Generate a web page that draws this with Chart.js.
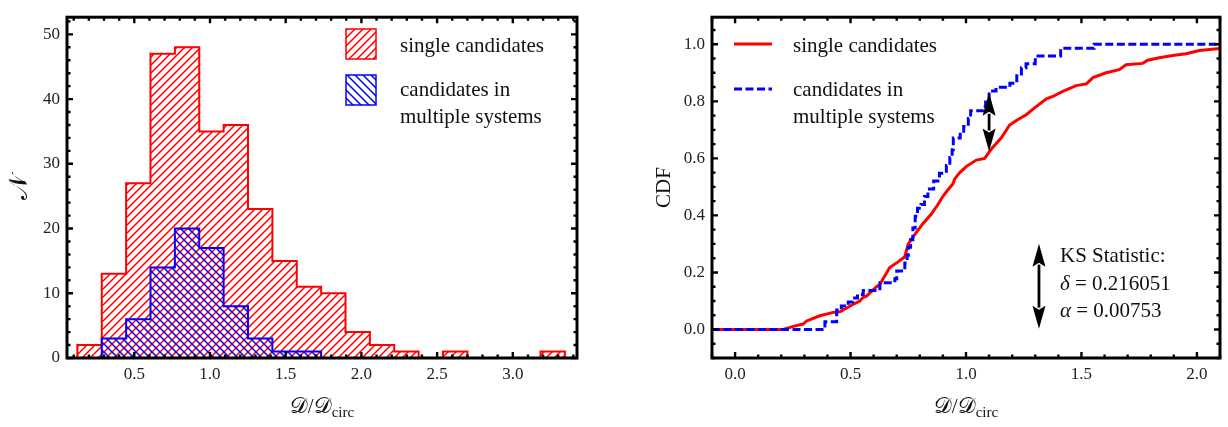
<!DOCTYPE html>
<html><head><meta charset="utf-8">
<script src="https://cdn.jsdelivr.net/npm/chart.js@4.4.0/dist/chart.umd.min.js"></script>
<style>
html,body{margin:0;padding:0;background:#fff;}
#wrap{position:relative;width:1228px;height:427px;overflow:hidden;background:#fff;}
#c1{position:absolute;left:0;top:0;}
#c2{position:absolute;left:620px;top:0;}
</style></head><body>
<div id="wrap"><canvas id="c1" width="600" height="427"></canvas><canvas id="c2" width="608" height="427"></canvas></div>
<script>
// ---------- data: histogram ----------
const binEdges = [0.124, 0.285, 0.446, 0.607, 0.768, 0.929, 1.090, 1.251, 1.412, 1.573, 1.734,
                  1.895, 2.056, 2.217, 2.378, 2.539, 2.700, 2.861, 3.022, 3.183, 3.344];
const singleCounts   = [2, 13, 27, 47, 48, 35, 36, 23, 15, 11, 10, 4, 2, 1, 0, 1, 0, 0, 0, 1];
const multipleCounts = [0, 3, 6, 14, 20, 17, 8, 3, 1, 1, 0, 0, 0, 0, 0, 0, 0, 0, 0, 0];
const histXTicks = [0.5, 1.0, 1.5, 2.0, 2.5, 3.0];
const histYTicks = [0, 10, 20, 30, 40, 50];

// ---------- data: CDF ----------
const singleCdfX = [-0.1, 0.209, 0.252, 0.295, 0.31, 0.367, 0.425, 0.454, 0.476, 0.504, 0.54, 0.555, 0.569,
  0.613, 0.627, 0.641, 0.67, 0.706, 0.735, 0.75, 0.778, 0.814, 0.85, 0.879, 0.9, 0.922, 0.944, 0.951, 0.973,
  1.002, 1.045, 1.081, 1.11, 1.153, 1.189, 1.218, 1.261, 1.297, 1.348, 1.376, 1.419, 1.477, 1.521, 1.55,
  1.607, 1.664, 1.693, 1.765, 1.787, 1.837, 1.895, 1.953, 2.011, 2.1];
const singleCdfY = [0, 0, 0.011, 0.019, 0.03, 0.048, 0.06, 0.062, 0.072, 0.085, 0.10, 0.113, 0.117,
  0.15, 0.158, 0.178, 0.217, 0.237, 0.255, 0.30, 0.333, 0.372, 0.405, 0.439, 0.467, 0.49, 0.511, 0.528, 0.55,
  0.572, 0.594, 0.60, 0.633, 0.672, 0.717, 0.733, 0.753, 0.777, 0.809, 0.817, 0.835, 0.855, 0.861, 0.883,
  0.90, 0.911, 0.928, 0.933, 0.944, 0.953, 0.961, 0.967, 0.978, 0.985];
const multipleCdfX = [-0.1, 0.389, 0.44, 0.46, 0.49, 0.51, 0.53, 0.555, 0.627, 0.692, 0.70, 0.735, 0.745,
  0.75, 0.76, 0.77, 0.78, 0.79, 0.805, 0.82, 0.835, 0.86, 0.885, 0.915, 0.93, 0.94, 0.945, 0.975, 0.99,
  1.01, 1.02, 1.075, 1.085, 1.10, 1.13, 1.19, 1.22, 1.24, 1.26, 1.30, 1.41, 1.555, 2.1];
const multipleCdfY = [0, 0.027, 0.068, 0.082, 0.096, 0.11, 0.123, 0.137, 0.164, 0.178, 0.205, 0.233, 0.26,
  0.288, 0.315, 0.356, 0.397, 0.425, 0.438, 0.466, 0.493, 0.521, 0.548, 0.575, 0.603, 0.63, 0.671, 0.685, 0.712,
  0.74, 0.767, 0.781, 0.808, 0.836, 0.849, 0.863, 0.89, 0.918, 0.932, 0.959, 0.986, 1.0, 1.0];
const cdfXTicks = [0.0, 0.5, 1.0, 1.5, 2.0];
const cdfYTicks = [0.0, 0.2, 0.4, 0.6, 0.8, 1.0];
const ksStat = {delta: '0.216051', alpha: '0.00753'};
const deltaArrow = {x: 1.1, y0: 0.624, y1: 0.830};
const ksArrow = {x: 1.316, y0: 0.003, y1: 0.301};

// ---------- styling helpers ----------
const SERIF = '"Liberation Serif", "Times New Roman", serif';
const SCRIPT = '"DejaVu Serif", "DejaVu Sans", serif';
const RED = 'rgb(255,0,0)', BLUE = 'rgb(0,0,255)';

function hatch(color, dir) {
  const s = 8, c = document.createElement('canvas');
  c.width = s; c.height = s;
  const g = c.getContext('2d');
  g.strokeStyle = color; g.lineWidth = 1.5; g.lineCap = 'square';
  g.beginPath();
  for (let k = -1; k <= 1; k++) {
    if (dir > 0) { g.moveTo(k * s - 1, s + 1); g.lineTo(k * s + s + 1, -1); }
    else { g.moveTo(k * s - 1, -1); g.lineTo(k * s + s + 1, s + 1); }
  }
  g.stroke();
  return ctxForPattern.createPattern(c, 'repeat');
}

function drawFrame(chart, xMinor, yMinor) {
  const {ctx, chartArea: a, scales: {x, y}} = chart;
  ctx.save();
  ctx.strokeStyle = '#000';
  ctx.lineWidth = 2.4;
  ctx.beginPath();
  xMinor.forEach(([v, major]) => {
    const p = x.getPixelForValue(v), L = major ? 6 : 3.5;
    if (p < a.left || p > a.right) return;
    ctx.moveTo(p, a.bottom); ctx.lineTo(p, a.bottom - L);
    ctx.moveTo(p, a.top); ctx.lineTo(p, a.top + L);
  });
  yMinor.forEach(([v, major]) => {
    const p = y.getPixelForValue(v), L = major ? 6 : 3.5;
    if (p < a.top || p > a.bottom) return;
    ctx.moveTo(a.left, p); ctx.lineTo(a.left + L, p);
    ctx.moveTo(a.right, p); ctx.lineTo(a.right - L, p);
  });
  ctx.stroke();
  ctx.lineWidth = 3;
  ctx.strokeRect(a.left, a.top, a.right - a.left, a.bottom - a.top);
  ctx.restore();
}

function drawXTitle(ctx, cx, baseline) {
  ctx.save();
  ctx.fillStyle = '#111';
  ctx.textBaseline = 'alphabetic';
  const parts = [['\u{1D49F}', '22px ' + SCRIPT, 0], ['/', '21px ' + SERIF, 0],
                 ['\u{1D49F}', '22px ' + SCRIPT, 0], ['circ', '15px ' + SERIF, 4]];
  let w = 0;
  parts.forEach(p => { ctx.font = p[1]; w += ctx.measureText(p[0]).width; });
  let xx = cx - w / 2;
  parts.forEach(p => { ctx.font = p[1]; ctx.fillText(p[0], xx, baseline + p[2]); xx += ctx.measureText(p[0]).width; });
  ctx.restore();
}

function drawRotated(ctx, text, font, x, y) {
  ctx.save();
  ctx.translate(x, y); ctx.rotate(-Math.PI / 2);
  ctx.font = font; ctx.fillStyle = '#111';
  ctx.textAlign = 'center'; ctx.textBaseline = 'alphabetic';
  ctx.fillText(text, 0, 0);
  ctx.restore();
}

function doubleArrow(ctx, px, top, bottom) {
  const hl = 23, hw = 6.5;
  ctx.save();
  ctx.fillStyle = '#000'; ctx.strokeStyle = '#000'; ctx.lineWidth = 2.8;
  ctx.beginPath(); ctx.moveTo(px, top + hl - 2); ctx.lineTo(px, bottom - hl + 2); ctx.stroke();
  ctx.beginPath(); ctx.moveTo(px, top); ctx.lineTo(px + hw, top + hl); ctx.lineTo(px, top + hl - 4); ctx.lineTo(px - hw, top + hl); ctx.closePath(); ctx.fill();
  ctx.beginPath(); ctx.moveTo(px, bottom); ctx.lineTo(px + hw, bottom - hl); ctx.lineTo(px, bottom - hl + 4); ctx.lineTo(px - hw, bottom - hl); ctx.closePath(); ctx.fill();
  ctx.restore();
}

Chart.defaults.font.family = SERIF;
Chart.defaults.color = '#222';

// ---------- left: histogram ----------
const ctx1 = document.getElementById('c1').getContext('2d');
const ctxForPattern = ctx1;
const redHatch = hatch(RED, 1), blueHatch = hatch(BLUE, -1);
const binCenters = binEdges.slice(0, -1).map((e, i) => (e + binEdges[i + 1]) / 2);
const outline = counts => {
  const pts = [{x: binEdges[0], y: 0}];
  counts.forEach((c, i) => pts.push({x: binEdges[i], y: c}));
  pts.push({x: binEdges[binEdges.length - 1], y: 0});
  return pts;
};

const histXMinor = [], histYMinor = [];
for (let k = 0; k <= 35; k++) histXMinor.push([k / 10, k % 5 === 0]);
for (let k = 0; k <= 26; k++) histYMinor.push([2 * k, (2 * k) % 10 === 0]);

new Chart(ctx1, {
  type: 'line',
  data: {
    datasets: [
      {type: 'line', label: 'multiple outline', data: outline(multipleCounts), stepped: true, borderColor: BLUE, borderWidth: 2, pointRadius: 0, fill: false, order: 0},
      {type: 'line', label: 'single outline', data: outline(singleCounts), stepped: true, borderColor: RED, borderWidth: 2, pointRadius: 0, fill: false, order: 1},
      {type: 'bar', label: 'candidates in multiple systems', data: binCenters.map((c, i) => ({x: c, y: multipleCounts[i]})), backgroundColor: blueHatch, hoverBackgroundColor: blueHatch, borderWidth: 0, barPercentage: 1, categoryPercentage: 1, grouped: false, order: 2},
      {type: 'bar', label: 'single candidates', data: binCenters.map((c, i) => ({x: c, y: singleCounts[i]})), backgroundColor: redHatch, hoverBackgroundColor: redHatch, borderWidth: 0, barPercentage: 1, categoryPercentage: 1, grouped: false, order: 3}
    ]
  },
  options: {
    responsive: false, animation: false, devicePixelRatio: 1,
    layout: {padding: {left: 0, top: 1, right: 23, bottom: 0}},
    plugins: {legend: {display: false}, tooltip: {enabled: false}},
    scales: {
      x: {type: 'linear', min: 0.0555, max: 3.424, offset: false,
          grid: {display: false, drawTicks: false}, border: {display: false},
          afterBuildTicks: s => { s.ticks = histXTicks.map(v => ({value: v})); },
          afterFit: s => { s.height = 69; },
          ticks: {padding: 6, font: {size: 17, family: SERIF}, color: '#222', callback: v => Number(v).toFixed(1)}},
      y: {type: 'linear', min: 0, max: 52.65,
          grid: {display: false, drawTicks: false}, border: {display: false},
          afterBuildTicks: s => { s.ticks = histYTicks.map(v => ({value: v})); },
          afterFit: s => { s.width = 67; },
          ticks: {padding: 7, font: {size: 17, family: SERIF}, color: '#222', callback: v => String(v)}}
    }
  },
  plugins: [{
    id: 'histDecor',
    afterDraw(chart) {
      const ctx = chart.ctx;
      drawFrame(chart, histXMinor, histYMinor);
      // legend
      ctx.save();
      [[redHatch, RED, 29], [blueHatch, BLUE, 75]].forEach(([pat, col, top]) => {
        ctx.fillStyle = pat; ctx.fillRect(346, top, 30, 30);
        ctx.strokeStyle = col; ctx.lineWidth = 1.5; ctx.strokeRect(346, top, 30, 30);
      });
      ctx.fillStyle = '#111'; ctx.font = '21px ' + SERIF; ctx.textBaseline = 'alphabetic';
      ctx.fillText('single candidates', 400, 51.7);
      ctx.fillText('candidates in', 400, 96);
      ctx.fillText('multiple systems', 400, 123.3);
      ctx.restore();
      drawXTitle(ctx, (chart.chartArea.left + chart.chartArea.right) / 2, 413);
      drawRotated(ctx, '\u{1D4A9}', '26px ' + SCRIPT, 27, (chart.chartArea.top + chart.chartArea.bottom) / 2);
    }
  }]
});

// ---------- right: CDF ----------
const ctx2 = document.getElementById('c2').getContext('2d');
const cdfXMinor = [], cdfYMinor = [];
for (let k = -1; k <= 21; k++) cdfXMinor.push([k / 10, k % 5 === 0]);
for (let k = -2; k <= 21; k++) cdfYMinor.push([k * 0.05, k % 4 === 0]);

new Chart(ctx2, {
  type: 'line',
  data: {
    datasets: [
      {label: 'candidates in multiple systems', data: multipleCdfX.map((x, i) => ({x, y: multipleCdfY[i]})), stepped: true,
       borderColor: BLUE, borderWidth: 3, borderDash: [8, 3.5], pointRadius: 0, fill: false, order: 0},
      {label: 'single candidates', data: singleCdfX.map((x, i) => ({x, y: singleCdfY[i]})),
       borderColor: RED, borderWidth: 3, pointRadius: 0, fill: false, tension: 0, order: 1}
    ]
  },
  options: {
    responsive: false, animation: false, devicePixelRatio: 1,
    layout: {padding: {left: 0, top: 1, right: 8, bottom: 0}},
    plugins: {legend: {display: false}, tooltip: {enabled: false}},
    scales: {
      x: {type: 'linear', min: -0.1, max: 2.1, offset: false,
          grid: {display: false, drawTicks: false}, border: {display: false},
          afterBuildTicks: s => { s.ticks = cdfXTicks.map(v => ({value: v})); },
          afterFit: s => { s.height = 69; },
          ticks: {padding: 6, font: {size: 17, family: SERIF}, color: '#222', callback: v => Number(v).toFixed(1)}},
      y: {type: 'linear', min: -0.1, max: 1.095,
          grid: {display: false, drawTicks: false}, border: {display: false},
          afterBuildTicks: s => { s.ticks = cdfYTicks.map(v => ({value: v})); },
          afterFit: s => { s.width = 92; },
          ticks: {padding: 7, font: {size: 17, family: SERIF}, color: '#222', callback: v => Number(v).toFixed(1)}}
    }
  },
  plugins: [{
    id: 'cdfDecor',
    afterDraw(chart) {
      const ctx = chart.ctx, {x, y} = chart.scales;
      drawFrame(chart, cdfXMinor, cdfYMinor);
      // legend
      ctx.save();
      ctx.lineWidth = 3;
      ctx.strokeStyle = RED; ctx.beginPath(); ctx.moveTo(114, 44); ctx.lineTo(152, 44); ctx.stroke();
      ctx.strokeStyle = BLUE; ctx.setLineDash([8, 3.5]); ctx.beginPath(); ctx.moveTo(114, 89); ctx.lineTo(152, 89); ctx.stroke();
      ctx.setLineDash([]);
      ctx.fillStyle = '#111'; ctx.font = '21px ' + SERIF; ctx.textBaseline = 'alphabetic';
      ctx.fillText('single candidates', 173, 51.7);
      ctx.fillText('candidates in', 173, 96);
      ctx.fillText('multiple systems', 173, 123.3);
      // KS text
      const tx = 440;
      ctx.fillText('KS Statistic:', tx, 261.5);
      [['\u03B4', ksStat.delta, 289.5], ['\u03B1', ksStat.alpha, 316.5]].forEach(([sym, val, b]) => {
        ctx.font = 'italic 21px ' + SERIF;
        ctx.fillText(sym, tx, b);
        const w = ctx.measureText(sym).width;
        ctx.font = '21px ' + SERIF;
        ctx.fillText(' = ' + val, tx + w, b);
      });
      ctx.restore();
      doubleArrow(ctx, x.getPixelForValue(deltaArrow.x), y.getPixelForValue(deltaArrow.y1), y.getPixelForValue(deltaArrow.y0));
      doubleArrow(ctx, x.getPixelForValue(ksArrow.x), y.getPixelForValue(ksArrow.y1), y.getPixelForValue(ksArrow.y0));
      drawXTitle(ctx, (chart.chartArea.left + chart.chartArea.right) / 2, 413);
      drawRotated(ctx, 'CDF', '21px ' + SERIF, 50, (chart.chartArea.top + chart.chartArea.bottom) / 2);
    }
  }]
});
</script>
</body></html>
